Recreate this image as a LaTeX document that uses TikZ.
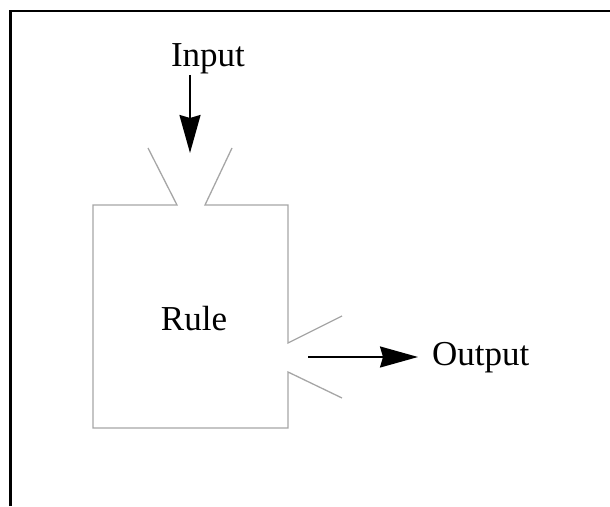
\documentclass[tikz,border=0pt]{standalone}
\usepackage{fontspec}
\setmainfont{Liberation Serif}
\usetikzlibrary{arrows.meta}
\begin{document}
\begin{tikzpicture}[x=1pt, y=1pt, >={Stealth[length=38pt, width=21pt, inset=3pt]},
    rulebox/.style={draw=gray!70, line width=1.3pt},
    flow/.style={->, line width=2pt},
    lbl/.style={font=\fontsize{35}{40}\selectfont, inner sep=0pt}]
    \useasboundingbox(0, 0)rectangle(610, 506);
    % frame
    \draw[line width=2.2pt](10.5, 0)--(10.5, 495)--(610, 495);
    % rule box with its two funnels
    \draw[rulebox](148, 358)--(177, 301)--(93, 301)--(93, 78)--(288, 78)--(288, 134)--(342, 108);
    \draw[rulebox](232, 358)--(205, 301)--(288, 301)--(288, 163)--(342, 190);
    \node[lbl, anchor=base](rule)at(194, 175){Rule};
    \node[lbl, anchor=base](in)at(208, 439){Input};
    \node[lbl, anchor=base west](out)at(432, 140){Output};
    \coordinate(inA)at(190, 431);
    \coordinate(inB)at(190, 353);
    \coordinate(outA)at(308, 149);
    \coordinate(outB)at(418, 149);
    \draw[flow](inA)--(inB);
    \draw[flow](outA)--(outB);
\end{tikzpicture}
\end{document}
